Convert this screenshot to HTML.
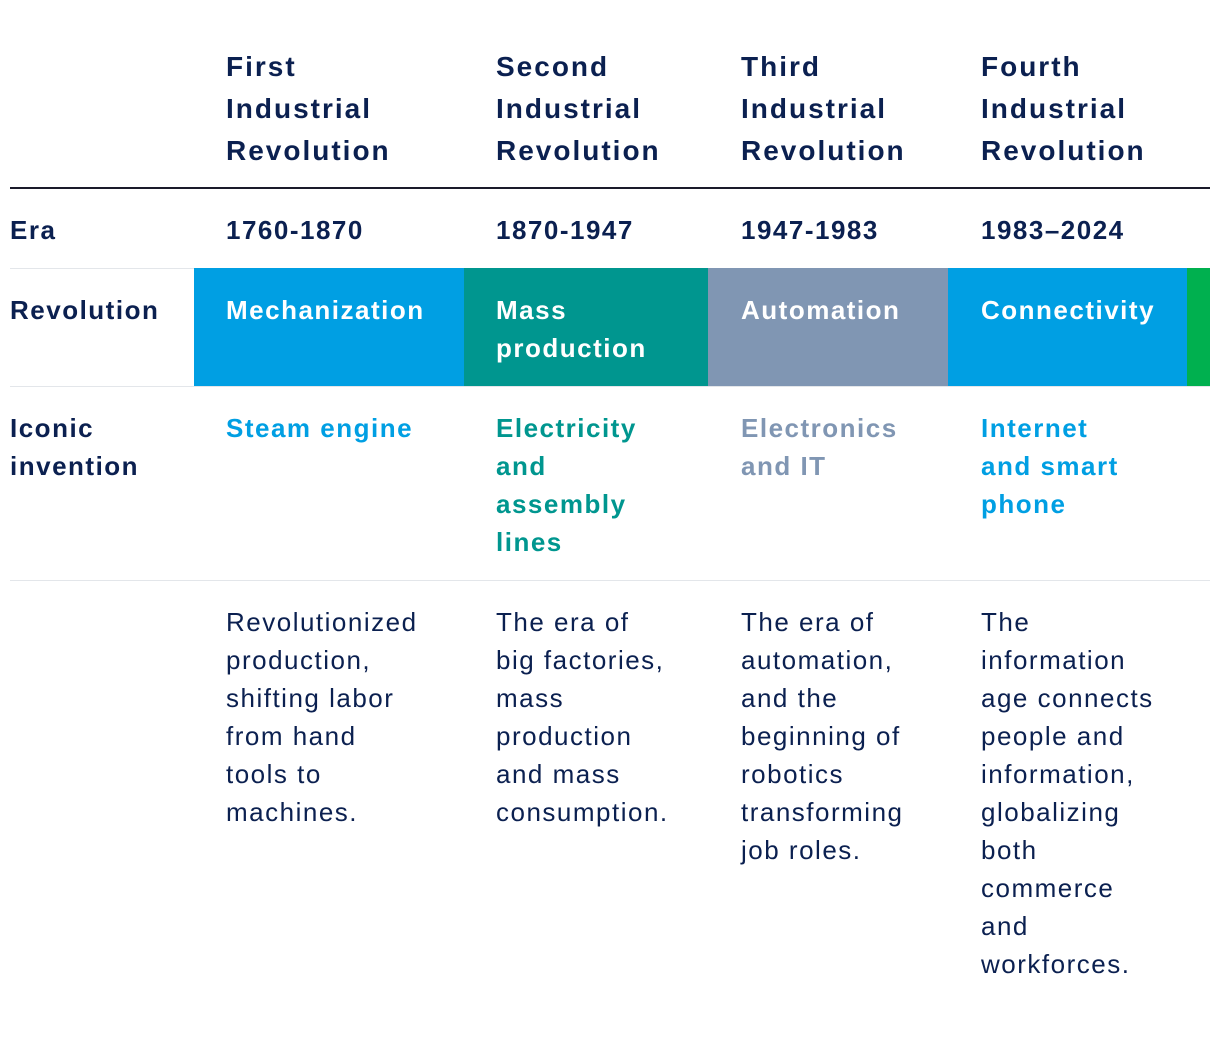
<!DOCTYPE html>
<html><head><meta charset="utf-8"><style>
body{margin:0;width:1220px;height:1050px;background:#fff;position:relative;overflow:hidden;font-family:"Liberation Sans",sans-serif;color:#0b2050}
.t{position:absolute;white-space:nowrap}
.h{font-weight:bold;font-size:28px;line-height:42px;letter-spacing:2px}
.b{font-weight:bold;font-size:26px;line-height:38px;letter-spacing:1.5px}
.r{font-size:26px;line-height:38px;letter-spacing:1.5px}
.w{color:#fff}
.cell{position:absolute;top:268px;height:118px}
.line{position:absolute;left:10px;width:1200px}
</style></head><body>
<div class="t h" style="left:226px;top:46px">First<br>Industrial<br>Revolution</div>
<div class="t h" style="left:496px;top:46px">Second<br>Industrial<br>Revolution</div>
<div class="t h" style="left:741px;top:46px">Third<br>Industrial<br>Revolution</div>
<div class="t h" style="left:981px;top:46px">Fourth<br>Industrial<br>Revolution</div>
<div class="line" style="top:187px;height:2px;background:#1a1a2a"></div>

<div class="t b" style="left:10px;top:211px">Era</div>
<div class="t b" style="left:226px;top:211px">1760-1870</div>
<div class="t b" style="left:496px;top:211px">1870-1947</div>
<div class="t b" style="left:741px;top:211px">1947-1983</div>
<div class="t b" style="left:981px;top:211px">1983–2024</div>
<div class="line" style="top:268px;height:1px;background:#e3e6ea"></div>

<div class="cell" style="left:194px;width:270px;background:#009fe3"></div>
<div class="cell" style="left:464px;width:244px;background:#00968f"></div>
<div class="cell" style="left:708px;width:240px;background:#8096b3"></div>
<div class="cell" style="left:948px;width:239px;background:#009fe3"></div>
<div class="cell" style="left:1187px;width:23px;background:#00b04f"></div>
<div class="t b" style="left:10px;top:291px">Revolution</div>
<div class="t b w" style="left:226px;top:291px">Mechanization</div>
<div class="t b w" style="left:496px;top:291px">Mass<br>production</div>
<div class="t b w" style="left:741px;top:291px">Automation</div>
<div class="t b w" style="left:981px;top:291px">Connectivity</div>
<div class="line" style="top:386px;height:1px;background:#e3e6ea"></div>

<div class="t b" style="left:10px;top:409px">Iconic<br>invention</div>
<div class="t b" style="left:226px;top:409px;color:#009fe3">Steam engine</div>
<div class="t b" style="left:496px;top:409px;color:#00968f">Electricity<br>and<br>assembly<br>lines</div>
<div class="t b" style="left:741px;top:409px;color:#8096b3">Electronics<br>and IT</div>
<div class="t b" style="left:981px;top:409px;color:#009fe3">Internet<br>and smart<br>phone</div>
<div class="line" style="top:580px;height:1px;background:#e3e6ea"></div>

<div class="t r" style="left:226px;top:603px">Revolutionized<br>production,<br>shifting labor<br>from hand<br>tools to<br>machines.</div>
<div class="t r" style="left:496px;top:603px">The era of<br>big factories,<br>mass<br>production<br>and mass<br>consumption.</div>
<div class="t r" style="left:741px;top:603px">The era of<br>automation,<br>and the<br>beginning of<br>robotics<br>transforming<br>job roles.</div>
<div class="t r" style="left:981px;top:603px">The<br>information<br>age connects<br>people and<br>information,<br>globalizing<br>both<br>commerce<br>and<br>workforces.</div>
</body></html>
